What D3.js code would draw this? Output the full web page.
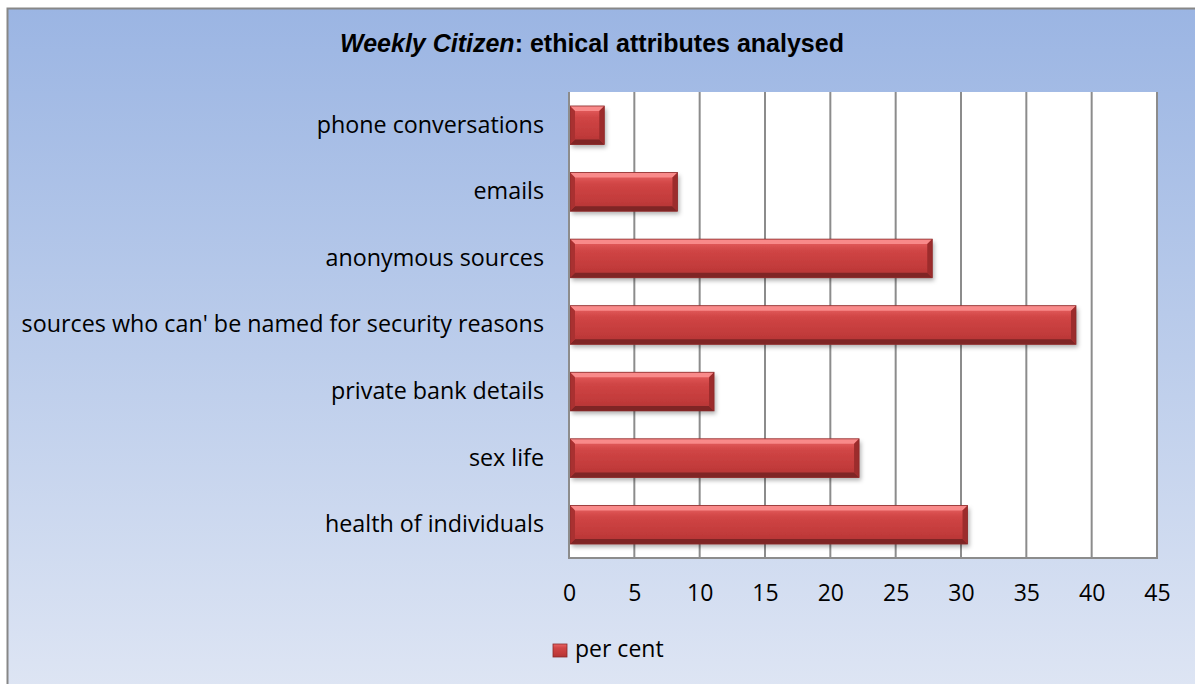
<!DOCTYPE html>
<html>
<head>
<meta charset="utf-8">
<script src="https://cdn.jsdelivr.net/npm/d3@7"></script>
<style>
  html, body { margin: 0; padding: 0; background: #ffffff; }
  svg { display: block; }
</style>
</head>
<body>
<svg id="chart" width="1195" height="684"></svg>
<script>
// Categories, listed from top to bottom
const categories = [
  "phone conversations",
  "emails",
  "anonymous sources",
  "sources who can' be named for security reasons",
  "private bank details",
  "sex life",
  "health of individuals"
];
// Share of articles, per cent
const perCent = [2.7, 8.3, 27.8, 38.8, 11.1, 22.2, 30.5];
const xTicks = [0, 5, 10, 15, 20, 25, 30, 35, 40, 45];
const seriesName = "per cent";

const W = 1195, H = 684;
const plot = { left: 569, top: 92, right: 1157, bottom: 558 };
const labelFont = "'Open Sans', 'Noto Sans', sans-serif";

const svg = d3.select("#chart");
const defs = svg.append("defs");

// Chart background: blue fading to pale towards the bottom
const bg = defs.append("linearGradient").attr("id", "bgGrad")
  .attr("x1", 0).attr("y1", 0).attr("x2", 0).attr("y2", 1);
bg.append("stop").attr("offset", "0%").attr("stop-color", "#9bb5e3");
bg.append("stop").attr("offset", "50%").attr("stop-color", "#bccdeb");
bg.append("stop").attr("offset", "100%").attr("stop-color", "#dfe6f4");

// Bar body gradient
const barGrad = defs.append("linearGradient").attr("id", "barGrad")
  .attr("x1", 0).attr("y1", 0).attr("x2", 0).attr("y2", 1);
barGrad.append("stop").attr("offset", "0%").attr("stop-color", "#ea6464");
barGrad.append("stop").attr("offset", "30%").attr("stop-color", "#d04545");
barGrad.append("stop").attr("offset", "75%").attr("stop-color", "#c13a3a");
barGrad.append("stop").attr("offset", "100%").attr("stop-color", "#b03434");

const shadow = defs.append("filter").attr("id", "barShadow")
  .attr("x", "-10%").attr("y", "-30%").attr("width", "130%").attr("height", "180%");
shadow.append("feDropShadow").attr("dx", 2).attr("dy", 3)
  .attr("stdDeviation", 2.2).attr("flood-color", "#000").attr("flood-opacity", 0.3);

// Outer chart area
svg.append("rect")
  .attr("x", 7.5).attr("y", 8.5).attr("width", W + 10).attr("height", H + 10)
  .attr("fill", "url(#bgGrad)").attr("stroke", "#878787").attr("stroke-width", 2);

// Title
const title = svg.append("text")
  .attr("x", 592).attr("y", 52)
  .attr("text-anchor", "middle")
  .style("font-family", "'Liberation Sans', Arial, sans-serif")
  .style("font-weight", "bold").style("font-size", "25px").attr("fill", "#000");
title.append("tspan").style("font-style", "italic").text("Weekly Citizen");
title.append("tspan").text(": ethical attributes analysed");

// Scales
const x = d3.scaleLinear().domain([0, 45]).range([plot.left, plot.right]);
const y = d3.scaleBand().domain(categories).range([plot.top, plot.bottom])
  .paddingInner(0.42).paddingOuter(0.21);

// Plot area
svg.append("rect")
  .attr("x", plot.left).attr("y", plot.top)
  .attr("width", plot.right - plot.left).attr("height", plot.bottom - plot.top)
  .attr("fill", "#ffffff");

// Vertical gridlines
svg.append("g").selectAll("line").data(xTicks).join("line")
  .attr("x1", d => x(d)).attr("x2", d => x(d))
  .attr("y1", plot.top).attr("y2", plot.bottom)
  .attr("stroke", "#8c8c8c").attr("stroke-width", 2);

// Bottom axis line
svg.append("line")
  .attr("x1", plot.left - 1).attr("x2", plot.right + 1)
  .attr("y1", plot.bottom).attr("y2", plot.bottom)
  .attr("stroke", "#8c8c8c").attr("stroke-width", 2);

// X axis labels
const xAxis = d3.axisBottom(x).tickValues(xTicks).tickSize(0).tickPadding(0);
const xg = svg.append("g").attr("transform", `translate(0,${plot.bottom})`).call(xAxis);
xg.select(".domain").remove();
xg.selectAll("text")
  .attr("y", 43).attr("dy", 0)
  .style("font-family", labelFont).style("font-size", "23px").attr("fill", "#000");

// Category labels
const yAxis = d3.axisLeft(y).tickSize(0).tickPadding(25);
const yg = svg.append("g").attr("transform", `translate(${plot.left},0)`).call(yAxis);
yg.select(".domain").remove();
yg.selectAll("text")
  .style("font-family", labelFont).style("font-size", "23.3px").attr("fill", "#000");

// Bars with bevelled edges
const bevel = 5;
const barG = svg.append("g").selectAll("g")
  .data(categories.map((c, i) => ({ cat: c, v: perCent[i] })))
  .join("g");

barG.each(function (d) {
  const g = d3.select(this);
  const x0 = x(0) + 1, x1 = x(d.v), y0 = y(d.cat), y1 = y0 + y.bandwidth();
  const b = Math.min(bevel, (x1 - x0) / 3);
  g.append("rect")
    .attr("x", x0).attr("y", y0).attr("width", x1 - x0).attr("height", y1 - y0)
    .attr("fill", "url(#barGrad)").attr("filter", "url(#barShadow)");
  const face = (pts, fill) => g.append("polygon")
    .attr("points", pts.map(p => p.join(",")).join(" "))
    .attr("fill", fill);
  // top edge highlight
  face([[x0, y0], [x1, y0], [x1 - b, y0 + b], [x0 + b, y0 + b]], "#f98a8a");
  // bottom edge shade
  face([[x0, y1], [x1, y1], [x1 - b, y1 - b], [x0 + b, y1 - b]], "#7f2525");
  // left edge
  face([[x0, y0], [x0 + b, y0 + b], [x0 + b, y1 - b], [x0, y1]], "#a93131");
  // right edge
  face([[x1, y0], [x1 - b, y0 + b], [x1 - b, y1 - b], [x1, y1]], "#9c2c2c");
  g.append("rect")
    .attr("x", x0).attr("y", y0).attr("width", x1 - x0).attr("height", y1 - y0)
    .attr("fill", "none").attr("stroke", "#8a2a2a").attr("stroke-width", 0.8);
});

// Left axis line
svg.append("line")
  .attr("x1", plot.left).attr("x2", plot.left)
  .attr("y1", plot.top).attr("y2", plot.bottom + 1)
  .attr("stroke", "#8c8c8c").attr("stroke-width", 2);

// Legend
const legend = svg.append("g").attr("transform", "translate(553,644)");
legend.append("rect").attr("width", 14).attr("height", 13)
  .attr("fill", "url(#barGrad)").attr("stroke", "#8a2a2a").attr("stroke-width", 0.8);
legend.append("text").attr("x", 22).attr("y", 13)
  .style("font-family", labelFont).style("font-size", "23px").attr("fill", "#000")
  .text(seriesName);
</script>
</body>
</html>
